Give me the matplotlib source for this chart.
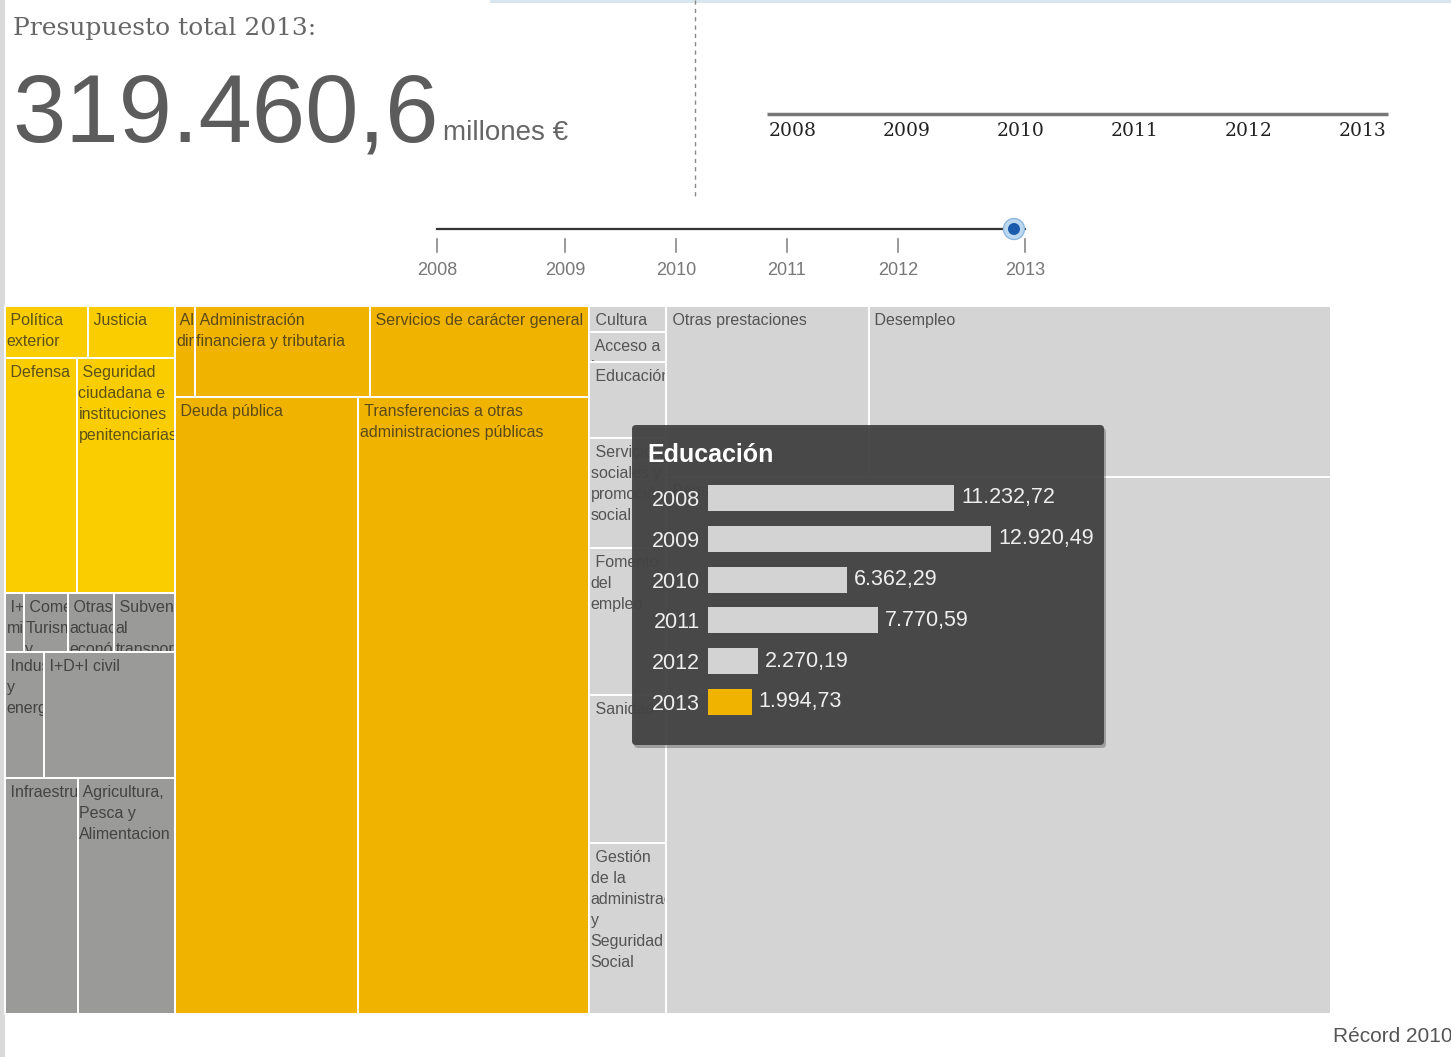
import numpy as np
import matplotlib
matplotlib.use('Agg')
import matplotlib.pyplot as plt
from matplotlib import font_manager
from matplotlib.font_manager import FontProperties
from matplotlib.patches import Rectangle, FancyBboxPatch, Circle
from matplotlib.transforms import Bbox, TransformedBbox

plt.rcParams['font.family'] = ['Liberation Sans', 'DejaVu Sans']

# datos: presupuesto 2013 por politica de gasto (millones de euros)
servicios_basicos = ['Política exterior', 'Justicia', 'Defensa',
                     'Seguridad ciudadana e instituciones penitenciarias']
servicios_basicos_val = [1469, 1540, 5758, 7837]

actuaciones_economicas = ['I+D+I militar', 'Comercio, Turismo y PYMES',
                          'Otras actuaciones económicas', 'Subvenciones al transporte',
                          'Industria y energía', 'I+D+I civil',
                          'Infraestructuras', 'Agricultura, Pesca y Alimentacion']
actuaciones_economicas_val = [381, 883, 924, 1225, 1672, 5617, 5863, 7790]

actuaciones_generales = ['Alta dirección', 'Administración financiera y tributaria',
                         'Servicios de carácter general', 'Deuda pública',
                         'Transferencias a otras administraciones públicas']
actuaciones_generales_val = [619, 5419, 6813, 38590, 48502]

bienes_preferentes = ['Cultura', 'Acceso a la vivienda y fomento de la edificación',
                      'Educación', 'Servicios sociales y promoción social',
                      'Fomento del empleo', 'Sanidad',
                      'Gestión de la administración y Seguridad Social']
bienes_preferentes_val = [681, 786, 1995, 2882, 3852, 3878, 4481]

proteccion_social = ['Otras prestaciones', 'Desempleo', 'Pensiones']
proteccion_social_val = [11813, 26994, 121558]

años = ['2008', '2009', '2010', '2011', '2012', '2013']
año_sel = '2013'
categoria_sel = 'Educación'
educacion_val = [11232.72, 12920.49, 6362.29, 7770.59, 2270.19, 1994.73]
presupuesto_total = '319.460,6'

# colores por grupo
grupos = [
    (servicios_basicos, servicios_basicos_val, '#f9cd00'),
    (actuaciones_economicas, actuaciones_economicas_val, '#9a9b98'),
    (actuaciones_generales, actuaciones_generales_val, '#f0b400'),
    (bienes_preferentes, bienes_preferentes_val, '#d4d4d4'),
    (proteccion_social, proteccion_social_val, '#d4d4d4'),
]
valor, color = {}, {}
for nombres, vals, c in grupos:
    for n, v in zip(nombres, vals):
        valor[n] = v
        color[n] = c

sb, ae, ag, bp, ps = (servicios_basicos, actuaciones_economicas,
                      actuaciones_generales, bienes_preferentes, proteccion_social)
arbol = ('h', [
    ('v', [('v', [('h', sb[0:2]), ('h', sb[2:4])]),
           ('v', [('h', ae[0:4]), ('h', ae[4:6]), ('h', ae[6:8])])]),
    ('v', [('h', ag[0:3]), ('h', ag[3:5])]),
    ('v', bp),
    ('v', [('h', ps[0:2]), ps[2]]),
])


def total(nodo):
    if isinstance(nodo, str):
        return valor[nodo]
    return sum(total(k) for k in nodo[1])


def layout(nodo, x, y, w, h):
    if isinstance(nodo, str):
        return [(nodo, x, y, w, h)]
    direc, hijos = nodo
    t = total(nodo)
    out = []
    for k in hijos:
        f = total(k) / t
        if direc == 'h':
            out += layout(k, x, y, w * f, h)
            x += w * f
        else:
            out += layout(k, x, y, w, h * f)
            y += h * f
    return out


W, H = 1451, 1057
fig = plt.figure(figsize=(W / 100, H / 100), dpi=100)
ax = fig.add_axes([0, 0, 1, 1])
ax.set_xlim(0, W)
ax.set_ylim(H, 0)
ax.axis('off')
renderer = fig.canvas.get_renderer()

# fondo de pagina
ax.add_patch(Rectangle((0, 0), 5, H, fc='#d9d9d9', ec='none'))
ax.add_patch(Rectangle((490, 0), W - 490, 3, fc='#d8e7ef', ec='none'))

# cabecera
ax.text(13, 35, 'Presupuesto total 2013:', family='DejaVu Serif', size=18,
        color='#666666', va='baseline')
fuentes = {f.name for f in font_manager.fontManager.ttflist}
if 'Liberation Sans Narrow' in fuentes:
    fam_num, size_num = 'Liberation Sans Narrow', 83
else:
    fam_num, size_num = 'Liberation Sans', 69
ax.text(12, 142, presupuesto_total, family=fam_num, size=size_num,
        color='#5c5c5c', va='baseline')
ax.text(443, 140, 'millones €', size=20, color='#666666', va='baseline')
ax.plot([695, 695], [0, 198], color='#888888', lw=1, ls=(0, (3, 3)))

# linea de tiempo superior
ax.plot([767, 1388], [114, 114], color='#777777', lw=2.5, solid_capstyle='butt')
for xx, a in zip(np.linspace(769, 1339, len(años)), años):
    ax.text(xx, 136, a, family='DejaVu Serif', size=13.5, color='#222222',
            va='baseline', ha='left')

# selector de año
slider_x = [437, 565, 676, 787, 898, 1025]
ax.plot([437, 1025], [229, 229], color='#333333', lw=1.6)
for xx, a in zip(slider_x, años):
    ax.plot([xx, xx], [239, 252], color='#888888', lw=1.2)
    ax.text(xx, 275, a, size=13, color='#777777', ha='center', va='baseline')
xs = slider_x[años.index(año_sel)] - 11
ax.add_patch(Circle((xs, 229), 10.5, fc='#bcd7f0', ec='#8fb8de', lw=1, zorder=4))
ax.add_patch(Circle((xs, 229), 6, fc='#1a5cab', ec='none', zorder=5))

# treemap
prop = FontProperties(family='Liberation Sans', size=11.5)


def ancho(s):
    w, h, d = renderer.get_text_width_height_descent(s, prop, ismath=False)
    return w


def partir(nombre, disponible):
    palabras = nombre.split()
    lineas, linea = [], ' ' + palabras[0]
    for p in palabras[1:]:
        if ancho(linea + ' ' + p) <= disponible:
            linea += ' ' + p
        else:
            lineas.append(linea)
            linea = p
    lineas.append(linea)
    return lineas


for nombre, x, y, w, h in layout(arbol, 5, 306, 1326, 708):
    r = Rectangle((x, y), w, h, fc=color[nombre], ec='white', lw=1.4, zorder=1)
    ax.add_patch(r)
    caja = TransformedBbox(Bbox.from_extents(x + 1, y + 1, x + w - 1, y + h - 1),
                           ax.transData)
    for i, lin in enumerate(partir(nombre, w - 4)):
        t = ax.text(x + 1.5, y + 19 + 21 * i, lin, fontproperties=prop,
                    color='#222222', alpha=0.72, va='baseline', zorder=2)
        t.set_clip_box(caja)
        t.set_clip_on(True)

# tooltip
ax.add_patch(FancyBboxPatch((634, 428), 472, 320, boxstyle='round,pad=0,rounding_size=4',
                            fc='#000000', ec='none', alpha=0.25, zorder=5))
ax.add_patch(FancyBboxPatch((632, 425), 472, 320, boxstyle='round,pad=0,rounding_size=4',
                            fc='#444444', ec='none', alpha=0.95, zorder=6))
ax.text(647, 462, categoria_sel, size=18, weight='bold', color='white',
        va='baseline', zorder=7)

bx0, bx1, by0, by1 = 708, 1090, 477.6, 722.4
axb = fig.add_axes([bx0 / W, 1 - by1 / H, (bx1 - bx0) / W, (by1 - by0) / H])
axb.set_zorder(10)
axb.patch.set_visible(False)
colores = ['#f0b400' if a == año_sel else '#d3d3d3' for a in años]
barras = axb.barh(range(len(años)), educacion_val, height=0.64, color=colores)
axb.set_xlim(0, (bx1 - bx0) / 0.0219)
axb.set_ylim(len(años) - 0.5, -0.5)
axb.set_yticks(range(len(años)), labels=años)
axb.set_xticks([])
axb.tick_params(axis='y', length=0, pad=6, labelsize=15.5, labelcolor='#eeeeee')
for s in axb.spines.values():
    s.set_visible(False)
etiquetas = [f'{v:,.2f}'.replace(',', '_').replace('.', ',').replace('_', '.')
             for v in educacion_val]
axb.bar_label(barras, labels=etiquetas, padding=5, color='#eeeeee', fontsize=15.5)

ax.text(1333, 1042, 'Récord 2010', size=15, color='#555555', va='baseline')

fig.savefig('out.png', dpi=100)
